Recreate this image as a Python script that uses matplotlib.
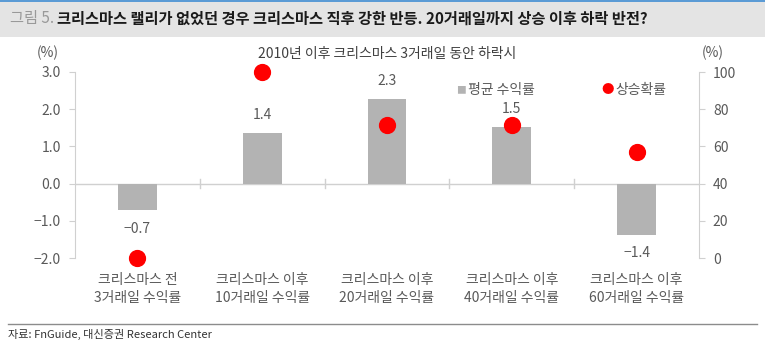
import matplotlib.pyplot as plt
from matplotlib.patches import Rectangle
import numpy as np

plt.rcParams['font.family'] = ['Noto Sans CJK KR', 'DejaVu Sans']
plt.rcParams['axes.unicode_minus'] = False

categories = ['크리스마스 전\n3거래일 수익률', '크리스마스 이후\n10거래일 수익률',
              '크리스마스 이후\n20거래일 수익률', '크리스마스 이후\n40거래일 수익률',
              '크리스마스 이후\n60거래일 수익률']
avg_return = [-0.72, 1.36, 2.28, 1.52, -1.39]
return_labels = ['\u22120.7', '1.4', '2.3', '1.5', '\u22121.4']
up_prob = [0.0, 100.0, 71.4, 71.4, 57.1]

left_ticks = [-2.0, -1.0, 0.0, 1.0, 2.0, 3.0]
right_ticks = [0, 20, 40, 60, 80, 100]

txt = '#595959'
spine = '#d0d0d0'

fig = plt.figure(figsize=(7.65, 3.43), dpi=100)

# header band
fig.patches.append(Rectangle((0, 1 - 37 / 343), 1, 35 / 343, transform=fig.transFigure,
                             facecolor='#e4e4e4', edgecolor='none', zorder=0))
fig.patches.append(Rectangle((0, 1 - 2 / 343), 1, 2 / 343, transform=fig.transFigure,
                             facecolor='#5b9bd5', edgecolor='none', zorder=0))
fig.text(10 / 765, 1 - 19 / 343, '그림 5.', fontsize=11, color='#999999', va='center')
fig.text(57 / 765, 1 - 19 / 343,
         '크리스마스 랠리가 없었던 경우 크리스마스 직후 강한 반등. 20거래일까지 상승 이후 하락 반전?',
         fontsize=11, color='#1a1a1a', fontweight='bold', va='center')

ax = fig.add_axes([75 / 765, 1 - 258 / 343, 624 / 765, 186 / 343])
x = np.arange(len(categories))
ax.bar(x, avg_return, width=0.31, color='#b3b3b3', zorder=2)
ax.axhline(0, color=spine, lw=1, zorder=1)
for xi, v, lab in zip(x, avg_return, return_labels):
    if v >= 0:
        ax.text(xi, v + 0.3, lab, ha='center', va='bottom', fontsize=10, color=txt)
    else:
        ax.text(xi, v - 0.3, lab, ha='center', va='top', fontsize=10, color=txt)

ax.set_xlim(-0.5, len(categories) - 0.5)
ax.set_ylim(-2.0, 3.0)
ax.set_yticks(left_ticks)
ax.set_yticklabels([f'{t:.1f}'.replace('-', '\u2212') for t in left_ticks], fontsize=10, color=txt)
ax.set_xticks(x)
ax.set_xticklabels(categories, fontsize=10, color=txt, linespacing=1.3)
ax.tick_params(axis='x', length=0, pad=11)
ax.tick_params(axis='y', length=4, color=spine, pad=6)
for xb in np.arange(0.5, len(categories) - 0.5):
    ax.plot([xb, xb], [-0.12, 0.12], color=spine, lw=1, zorder=1)
for s in ['top', 'bottom', 'right']:
    ax.spines[s].set_visible(False)
ax.spines['left'].set_color(spine)

ax2 = ax.twinx()
ax2.scatter(x, up_prob, s=130, color='#ff0000', zorder=5, clip_on=False)
ax2.set_ylim(0, 100)
ax2.set_yticks(right_ticks)
ax2.set_yticklabels([str(t) for t in right_ticks], fontsize=10, color=txt)
ax2.tick_params(axis='y', length=4, color=spine, pad=6)
for s in ['top', 'bottom', 'left']:
    ax2.spines[s].set_visible(False)
ax2.spines['right'].set_color(spine)

fig.text(48 / 765, 1 - 53 / 343, '(%)', fontsize=10, color=txt, ha='center', va='center')
fig.text(713 / 765, 1 - 53 / 343, '(%)', fontsize=10, color=txt, ha='center', va='center')
fig.text(387 / 765, 1 - 54 / 343, '2010년 이후 크리스마스 3거래일 동안 하락시', fontsize=10,
         color='#404040', ha='center', va='center')

# legend
fig.text(456 / 765, 1 - 90 / 343, '■', fontsize=7, color='#b3b3b3', ha='left', va='center')
fig.text(468 / 765, 1 - 90 / 343, '평균 수익률', fontsize=10, color=txt, ha='left', va='center')
fig.text(601 / 765, 1 - 90 / 343, '●', fontsize=9, color='#ff0000', ha='left', va='center')
fig.text(615 / 765, 1 - 90 / 343, '상승확률', fontsize=10, color=txt, ha='left', va='center')

# footer
fig.add_artist(plt.Line2D([0.01, 0.99], [1 - 324 / 343, 1 - 324 / 343], color='#8c8c8c', lw=1))
fig.text(8 / 765, 1 - 334 / 343, '자료: FnGuide, 대신증권 Research Center', fontsize=8,
         color='#333333', va='center')

fig.savefig('out.png', dpi=100)
